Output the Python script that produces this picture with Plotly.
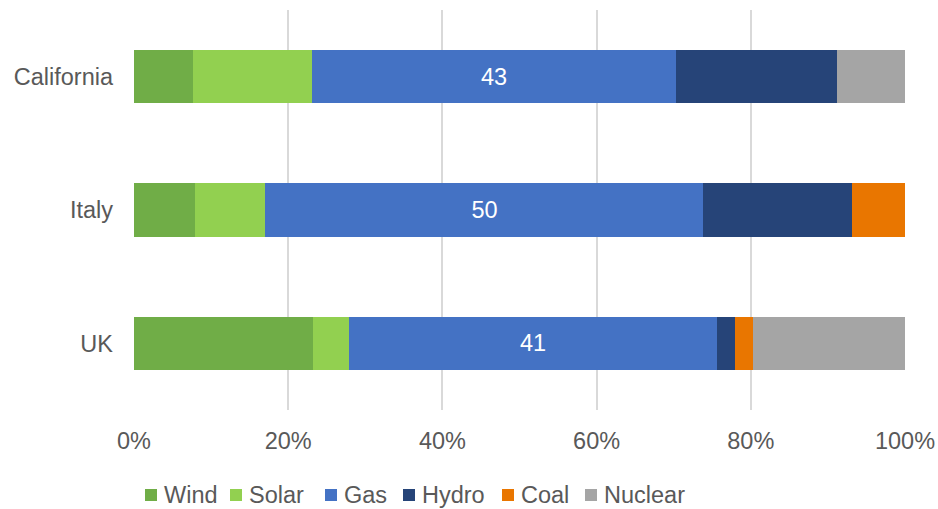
import plotly.graph_objects as go

regions = ["California", "Italy", "UK"]
sources = ["Wind", "Solar", "Gas", "Hydro", "Coal", "Nuclear"]
wind = [7, 7, 20]
solar = [14, 8, 4]
gas = [43, 50, 41]
hydro = [19, 17, 2]
coal = [0, 6, 2]
nuclear = [8, 0, 17]
series = [wind, solar, gas, hydro, coal, nuclear]
colors = ["#70AD47", "#92D050", "#4472C4", "#264478", "#E97600", "#A5A5A5"]
tick_vals = [0, 20, 40, 60, 80, 100]
tick_text = ["0%", "20%", "40%", "60%", "80%", "100%"]

FS = 23.5
FONT = "Liberation Sans, Arial"
W, H = 938, 509
ML, MR, MT, MB = 134, 33, 10, 99
PW, PH = W - ML - MR, H - MT - MB

fig = go.Figure()
for name, vals, col in zip(sources, series, colors):
    kw = {}
    if name == "Gas":
        kw = dict(text=[str(v) for v in vals], textposition="inside",
                  insidetextanchor="middle",
                  textfont=dict(color="white", size=FS, family=FONT))
    fig.add_trace(go.Bar(y=regions, x=vals, name=name, orientation="h",
                         marker=dict(color=col, line=dict(width=0)),
                         hoverinfo="x+name", showlegend=False, **kw))

# legend drawn as squares + text below the plot
legend_px = [145, 230, 325, 403, 502, 585]
shapes, annotations = [], []
for px, name, col in zip(legend_px, sources, colors):
    x0 = (px - ML) / PW
    x1 = (px + 12 - ML) / PW
    y0 = -(489 - (MT + PH)) / PH
    y1 = -(501 - (MT + PH)) / PH
    shapes.append(dict(type="rect", xref="paper", yref="paper", x0=x0, x1=x1,
                       y0=y0, y1=y1, fillcolor=col, line=dict(width=0)))
    annotations.append(dict(text=name, xref="paper", yref="paper",
                            x=(px + 17 - ML) / PW, y=-(495 - (MT + PH)) / PH,
                            xanchor="left", yanchor="middle", showarrow=False,
                            font=dict(size=FS, color="#595959", family=FONT)))

fig.update_layout(
    barmode="stack", barnorm="percent", bargap=0.6,
    width=W, height=H,
    margin=dict(l=ML, r=MR, t=MT, b=MB, autoexpand=False),
    plot_bgcolor="white", paper_bgcolor="white",
    font=dict(family=FONT, size=FS, color="#595959"),
    showlegend=False,
    shapes=shapes, annotations=annotations,
    uniformtext=dict(mode="show", minsize=10),
)
fig.update_xaxes(range=[0, 100], tickvals=tick_vals, ticktext=tick_text,
                 showgrid=True, gridcolor="#D9D9D9", gridwidth=2,
                 zeroline=False, showline=False, ticklabelstandoff=14,
                 automargin=False,
                 tickfont=dict(size=FS, color="#595959"))
fig.update_yaxes(categoryorder="array", categoryarray=regions, autorange="reversed",
                 showgrid=False, showline=False, ticklabelstandoff=20,
                 automargin=False,
                 tickfont=dict(size=FS, color="#595959"))

fig.write_html("out.html", config={"displayModeBar": False},
               post_script="document.body.style.margin='0px';")
